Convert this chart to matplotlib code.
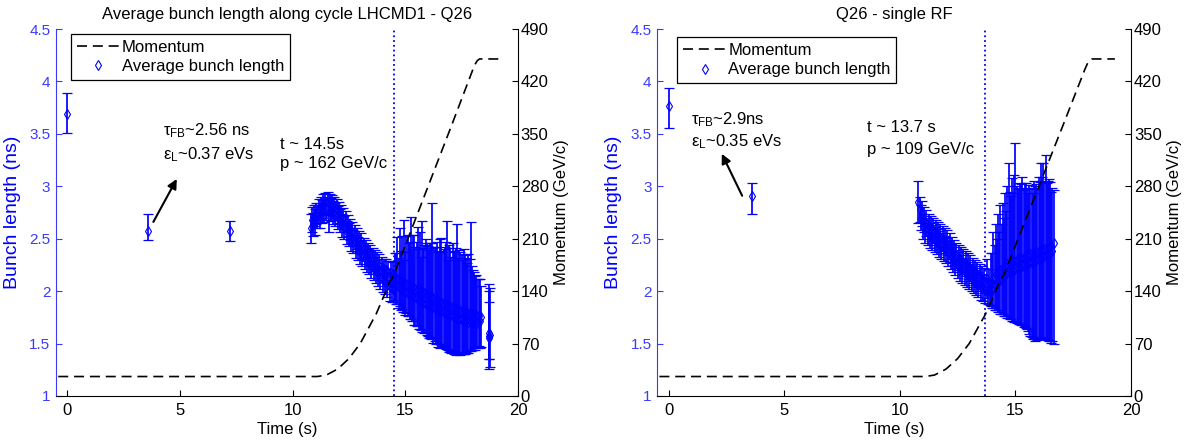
import matplotlib
matplotlib.use('Agg')
import matplotlib.pyplot as plt
from matplotlib.lines import Line2D

plt.rcParams['font.family'] = ['Liberation Sans', 'DejaVu Sans']
plt.rcParams['mathtext.fontset'] = 'custom'
plt.rcParams['mathtext.rm'] = 'Liberation Sans'
plt.rcParams['mathtext.it'] = 'Liberation Sans'

BLUE = '#0000ff'
TICK_BLUE = '#3a3aff'

# momentum program of the cycle (GeV/c), shared by both panels
mom_t = [-0.4, 11.1, 11.5, 12.0, 12.5, 13.0, 13.5, 13.7, 14.0, 14.3, 14.5,
         15.0, 16.0, 17.0, 18.0, 18.1, 18.2, 18.3, 19.3]
mom_p = [26, 26, 28, 36, 50, 70, 98, 109, 130, 152, 162,
         201, 279, 357, 436, 443, 448, 450, 450]

# ---- LHCMD1 - Q26 ----
q26_inj_t = [0.0, 3.6, 7.2]
q26_inj_len = [3.69, 2.57, 2.57]
q26_inj_lo = [0.18, 0.08, 0.09]
q26_inj_hi = [0.20, 0.17, 0.10]

q26_ramp_t = [10.80, 10.85, 10.90, 10.95, 11.00, 11.05, 11.10, 11.15, 11.20, 11.25,
              11.30, 11.35, 11.40, 11.45, 11.50, 11.55, 11.60, 11.65, 11.70, 11.75,
              11.80, 11.85, 11.90, 11.95, 12.00, 12.05, 12.10, 12.15, 12.20, 12.25,
              12.30, 12.35, 12.40, 12.45, 12.50, 12.55, 12.60, 12.65, 12.70, 12.75,
              12.80, 12.85, 12.90, 12.95, 13.00, 13.05, 13.10, 13.15, 13.20, 13.25,
              13.30, 13.35, 13.40, 13.45, 13.50, 13.55, 13.60, 13.65, 13.70, 13.75,
              13.80, 13.85, 13.90, 13.95, 14.00, 14.05, 14.10, 14.15, 14.20, 14.25,
              14.30, 14.35, 14.40, 14.45, 14.50]
q26_ramp_len = [2.60, 2.68, 2.64, 2.72, 2.66, 2.74, 2.71, 2.78, 2.72, 2.80,
                2.76, 2.83, 2.77, 2.84, 2.79, 2.85, 2.72, 2.83, 2.78, 2.82,
                2.75, 2.80, 2.73, 2.78, 2.70, 2.75, 2.67, 2.72, 2.63, 2.69,
                2.61, 2.66, 2.56, 2.63, 2.54, 2.59, 2.49, 2.56, 2.47, 2.53,
                2.43, 2.50, 2.41, 2.47, 2.37, 2.45, 2.35, 2.41, 2.32, 2.39,
                2.29, 2.36, 2.27, 2.34, 2.24, 2.31, 2.22, 2.29, 2.19, 2.27,
                2.16, 2.25, 2.13, 2.23, 2.11, 2.21, 2.09, 2.20, 2.06, 2.18,
                2.04, 2.17, 2.03, 2.16, 2.02]
q26_ramp_err = [0.14, 0.12, 0.11, 0.10, 0.12, 0.10, 0.11, 0.10, 0.12, 0.10,
                0.11, 0.10, 0.11, 0.10, 0.11, 0.10, 0.16, 0.10, 0.11, 0.10,
                0.11, 0.10, 0.11, 0.10, 0.11, 0.10, 0.11, 0.10, 0.11, 0.10,
                0.11, 0.10, 0.11, 0.10, 0.11, 0.10, 0.11, 0.10, 0.11, 0.10,
                0.11, 0.10, 0.11, 0.10, 0.11, 0.10, 0.11, 0.10, 0.11, 0.10,
                0.11, 0.10, 0.11, 0.10, 0.11, 0.10, 0.11, 0.10, 0.11, 0.10,
                0.11, 0.10, 0.11, 0.10, 0.12, 0.10, 0.12, 0.11, 0.12, 0.11,
                0.13, 0.12, 0.13, 0.12, 0.12]

q26_late_t = [14.55, 14.60, 14.65, 14.70, 14.75, 14.80, 14.85, 14.90, 14.95, 15.00,
              15.05, 15.10, 15.15, 15.20, 15.25, 15.30, 15.35, 15.40, 15.45, 15.50,
              15.55, 15.60, 15.65, 15.70, 15.75, 15.80, 15.85, 15.90, 15.95, 16.00,
              16.05, 16.10, 16.15, 16.20, 16.25, 16.30, 16.35, 16.40, 16.45, 16.50,
              16.55, 16.60, 16.65, 16.70, 16.75, 16.80, 16.85, 16.90, 16.95, 17.00,
              17.05, 17.10, 17.15, 17.20, 17.25, 17.30, 17.35, 17.40, 17.45, 17.50,
              17.55, 17.60, 17.65, 17.70, 17.75, 17.80, 17.85, 17.90, 17.95, 18.00,
              18.05, 18.10, 18.15, 18.20, 18.25, 18.30, 18.35,
              18.70, 18.70, 18.70, 18.75]
q26_late_len = [2.14, 2.06, 2.12, 2.04, 2.10, 2.02, 2.09, 2.00, 2.08, 1.99,
                2.07, 1.98, 2.06, 1.97, 2.05, 1.96, 2.04, 1.94, 2.02, 1.93,
                2.01, 1.92, 2.00, 1.91, 1.99, 1.89, 1.98, 1.88, 1.96, 1.87,
                1.95, 1.86, 1.94, 1.85, 1.93, 1.84, 1.92, 1.83, 1.91, 1.82,
                1.90, 1.81, 1.89, 1.80, 1.88, 1.79, 1.87, 1.78, 1.86, 1.77,
                1.85, 1.76, 1.84, 1.75, 1.83, 1.74, 1.82, 1.73, 1.81, 1.73,
                1.80, 1.72, 1.80, 1.72, 1.79, 1.71, 1.79, 1.71, 1.78, 1.70,
                1.78, 1.70, 1.77, 1.70, 1.76, 1.72, 1.75,
                1.55, 1.60, 1.57, 1.58]
q26_late_lo = [0.22, 0.18, 0.24, 0.20, 0.24, 0.20, 0.26, 0.20, 0.28, 0.22,
               0.28, 0.22, 0.30, 0.24, 0.32, 0.24, 0.32, 0.26, 0.34, 0.26,
               0.34, 0.28, 0.36, 0.28, 0.38, 0.28, 0.38, 0.28, 0.38, 0.30,
               0.40, 0.30, 0.40, 0.30, 0.42, 0.32, 0.42, 0.32, 0.44, 0.32,
               0.44, 0.32, 0.42, 0.32, 0.42, 0.34, 0.42, 0.34, 0.44, 0.34,
               0.44, 0.34, 0.44, 0.34, 0.44, 0.32, 0.42, 0.32, 0.42, 0.32,
               0.40, 0.32, 0.40, 0.30, 0.38, 0.30, 0.36, 0.28, 0.34, 0.26,
               0.32, 0.26, 0.30, 0.24, 0.28, 0.26, 0.28,
               0.29, 0.25, 0.22, 0.30]
q26_late_hi = [0.22, 0.30, 0.40, 0.28, 0.50, 0.36, 0.44, 0.30, 0.60, 0.38,
               0.46, 0.56, 0.40, 0.50, 0.66, 0.44, 0.50, 0.60, 0.40, 0.54,
               0.60, 0.48, 0.56, 0.42, 0.68, 0.52, 0.46, 0.62, 0.50, 0.56,
               0.44, 0.60, 0.52, 0.99, 0.48, 0.58, 0.50, 0.64, 0.46, 0.56,
               0.60, 0.70, 0.48, 0.60, 0.54, 0.68, 0.80, 0.52, 0.58, 0.64,
               0.48, 0.70, 0.54, 0.62, 0.58, 0.90, 0.50, 0.66, 0.56, 0.62,
               0.50, 0.68, 0.54, 0.60, 0.48, 0.64, 0.52, 0.95, 0.46, 0.50,
               0.40, 0.44, 0.38, 0.42, 0.36, 0.40, 0.30,
               0.52, 0.40, 0.33, 0.45]

# ---- Q26 single RF ----
srf_inj_t = [0.0, 3.6]
srf_inj_len = [3.77, 2.91]
srf_inj_lo = [0.21, 0.175]
srf_inj_hi = [0.17, 0.12]

srf_ramp_t = [10.80, 10.85, 10.90, 10.95, 11.00, 11.05, 11.10, 11.15, 11.20, 11.25,
              11.30, 11.35, 11.40, 11.45, 11.50, 11.55, 11.60, 11.65, 11.70, 11.75,
              11.80, 11.85, 11.90, 11.95, 12.00, 12.05, 12.10, 12.15, 12.20, 12.25,
              12.30, 12.35, 12.40, 12.45, 12.50, 12.55, 12.60, 12.65, 12.70, 12.75,
              12.80, 12.85, 12.90, 12.95, 13.00, 13.05, 13.10, 13.15, 13.20, 13.25,
              13.30, 13.35, 13.40, 13.45, 13.50, 13.55, 13.60, 13.65, 13.70, 13.75,
              13.80, 13.85, 13.90]
srf_ramp_len = [2.85, 2.78, 2.70, 2.74, 2.62, 2.68, 2.58, 2.65, 2.56, 2.62,
                2.53, 2.60, 2.51, 2.58, 2.49, 2.56, 2.47, 2.54, 2.45, 2.52,
                2.43, 2.50, 2.41, 2.48, 2.39, 2.46, 2.36, 2.43, 2.33, 2.40,
                2.30, 2.37, 2.27, 2.34, 2.25, 2.32, 2.22, 2.30, 2.20, 2.28,
                2.18, 2.26, 2.16, 2.24, 2.14, 2.22, 2.12, 2.20, 2.10, 2.18,
                2.08, 2.16, 2.06, 2.14, 2.04, 2.12, 2.03, 2.10, 2.01, 2.12,
                2.00, 2.09, 1.99]
srf_ramp_err = [0.20, 0.12, 0.12, 0.12, 0.12, 0.12, 0.12, 0.12, 0.12, 0.12,
                0.12, 0.12, 0.12, 0.12, 0.12, 0.12, 0.12, 0.12, 0.12, 0.12,
                0.12, 0.12, 0.12, 0.12, 0.12, 0.12, 0.12, 0.12, 0.12, 0.12,
                0.12, 0.12, 0.12, 0.12, 0.12, 0.12, 0.12, 0.12, 0.12, 0.12,
                0.12, 0.12, 0.12, 0.12, 0.12, 0.12, 0.12, 0.12, 0.12, 0.12,
                0.12, 0.12, 0.12, 0.12, 0.12, 0.12, 0.12, 0.12, 0.12, 0.19,
                0.12, 0.12, 0.12]

srf_late_t = [13.95, 14.00, 14.05, 14.10, 14.15, 14.20, 14.25, 14.30, 14.35, 14.40,
              14.45, 14.50, 14.55, 14.60, 14.65, 14.70, 14.75, 14.80, 14.85, 14.90,
              14.95, 15.00, 15.05, 15.10, 15.15, 15.20, 15.25, 15.30, 15.35, 15.40,
              15.45, 15.50, 15.55, 15.60, 15.65, 15.70, 15.75, 15.80, 15.85, 15.90,
              15.95, 16.00, 16.05, 16.10, 16.15, 16.20, 16.25, 16.30, 16.35, 16.40,
              16.45, 16.50, 16.55, 16.60, 16.65]
srf_late_len = [2.08, 2.02, 2.12, 2.06, 2.16, 2.08, 2.18, 2.10, 2.20, 2.12,
                2.22, 2.14, 2.24, 2.16, 2.26, 2.18, 2.27, 2.19, 2.28, 2.20,
                2.29, 2.21, 2.30, 2.22, 2.31, 2.23, 2.32, 2.24, 2.32, 2.25,
                2.33, 2.26, 2.34, 2.27, 2.35, 2.28, 2.36, 2.29, 2.36, 2.30,
                2.37, 2.31, 2.38, 2.32, 2.39, 2.33, 2.40, 2.34, 2.41, 2.35,
                2.42, 2.36, 2.43, 2.38, 2.46]
srf_late_lo = [0.22, 0.18, 0.28, 0.24, 0.34, 0.26, 0.38, 0.30, 0.42, 0.34,
               0.44, 0.38, 0.48, 0.40, 0.52, 0.44, 0.54, 0.46, 0.56, 0.48,
               0.58, 0.50, 0.60, 0.52, 0.62, 0.54, 0.64, 0.56, 0.66, 0.58,
               0.68, 0.62, 0.72, 0.68, 0.78, 0.72, 0.82, 0.74, 0.84, 0.76,
               0.84, 0.76, 0.84, 0.76, 0.84, 0.78, 0.86, 0.80, 0.88, 0.82,
               0.90, 0.84, 0.92, 0.86, 0.96]
srf_late_hi = [0.28, 0.34, 0.44, 0.38, 0.48, 0.42, 0.56, 0.46, 0.62, 0.52,
               0.62, 0.56, 0.70, 0.60, 0.74, 1.04, 0.68, 0.72, 0.80, 0.74,
               0.82, 1.20, 0.70, 0.76, 0.66, 0.80, 0.70, 0.85, 0.64, 0.78,
               0.70, 0.72, 0.60, 0.74, 0.62, 0.70, 0.58, 0.76, 0.64, 0.72,
               0.60, 0.78, 0.66, 0.90, 0.70, 0.89, 0.64, 0.96, 0.62, 0.70,
               0.65, 0.68, 0.52, 0.60, 0.50]


def draw_panel(rect, t, length, lo, hi, t_mark, title, legend_xy, notes, arrow):
    ax = fig.add_axes(rect)
    ax2 = ax.twinx()

    ax.axvline(t_mark, color=BLUE, ls=':', lw=1.3, zorder=1)
    # diamonds go under the bars so the dense stretches read as one blue mass
    ax.plot(t, length, 'd', ms=5, mfc='none', mec=BLUE, mew=0.8, zorder=2)
    ax.errorbar(t, length, yerr=[lo, hi], fmt='none', ecolor=BLUE,
                elinewidth=1.25, capsize=3.6, capthick=0.9, zorder=3)
    mom_line, = ax2.plot(mom_t, mom_p, color='black', ls='--',
                         dashes=(6, 3.5), lw=1.2)

    ax.set_xlim(-0.5, 20)
    ax.set_ylim(1, 4.5)
    ax2.set_ylim(0, 490)
    ax.set_xticks([0, 5, 10, 15, 20])
    ax.set_yticks([1, 1.5, 2, 2.5, 3, 3.5, 4, 4.5])
    ax.set_yticklabels(['1', '1.5', '2', '2.5', '3', '3.5', '4', '4.5'])
    ax2.set_yticks(range(0, 491, 70))

    for a in (ax, ax2):
        a.spines['top'].set_visible(False)
    ax.spines['right'].set_visible(False)
    ax2.spines['left'].set_visible(False)
    ax.spines['left'].set_color(TICK_BLUE)
    ax2.spines['bottom'].set_visible(False)

    ax.tick_params(axis='x', direction='in', length=4, labelsize=12, pad=5)
    ax.tick_params(axis='y', direction='in', length=4, labelsize=11,
                   colors=TICK_BLUE, pad=4)
    ax2.tick_params(axis='y', direction='in', length=4, labelsize=12, pad=2)

    ax.set_xlabel('Time (s)', fontsize=12, labelpad=3)
    ax.set_ylabel('Bunch length (ns)', fontsize=14, color=BLUE, labelpad=6)
    ax2.set_ylabel('Momentum (GeV/c)', fontsize=12, labelpad=4)
    ax.set_title(title, fontsize=12, pad=7)

    marker_proxy = Line2D([], [], ls='none', marker='d', ms=5, mfc='none',
                          mec=BLUE, mew=0.8)
    leg = ax2.legend([mom_line, marker_proxy],
                     ['Momentum', 'Average bunch length'],
                     loc='upper left', bbox_to_anchor=legend_xy,
                     borderaxespad=0, fontsize=12, fancybox=False,
                     edgecolor='black', framealpha=1, handlelength=2.6,
                     handletextpad=0.1, labelspacing=0.25, borderpad=0.35)
    leg.get_frame().set_linewidth(0.9)

    for x, y, s in notes:
        ax.text(x, y, s, fontsize=12, va='baseline')
    ax.annotate('', xy=arrow[1], xytext=arrow[0],
                arrowprops=dict(arrowstyle='-|>', color='black', lw=1.5,
                                mutation_scale=14, shrinkA=0, shrinkB=0))
    return ax, ax2


fig = plt.figure(figsize=(11.94, 4.47), dpi=100)

draw_panel([0.0469, 0.1141, 0.3869, 0.8210],
           q26_inj_t + q26_ramp_t + q26_late_t,
           q26_inj_len + q26_ramp_len + q26_late_len,
           q26_inj_lo + q26_ramp_err + q26_late_lo,
           q26_inj_hi + q26_ramp_err + q26_late_hi,
           14.5, 'Average bunch length along cycle LHCMD1 - Q26',
           (0.032, 0.987),
           [(4.25, 3.49, r'$\tau_{\mathrm{FB}}$~2.56 ns'),
            (4.25, 3.26, r'$\varepsilon_{\mathrm{L}}$~0.37 eVs'),
            (9.45, 3.36, 't ~ 14.5s'),
            (9.45, 3.17, 'p ~ 162 GeV/c')],
           ((3.82, 2.66), (4.86, 3.07)))

draw_panel([0.5503, 0.1141, 0.3970, 0.8210],
           srf_inj_t + srf_ramp_t + srf_late_t,
           srf_inj_len + srf_ramp_len + srf_late_len,
           srf_inj_lo + srf_ramp_err + srf_late_lo,
           srf_inj_hi + srf_ramp_err + srf_late_hi,
           13.7, 'Q26 - single RF',
           (0.043, 0.977),
           [(0.95, 3.59, r'$\tau_{\mathrm{FB}}$~2.9ns'),
            (0.95, 3.38, r'$\varepsilon_{\mathrm{L}}$~0.35 eVs'),
            (8.6, 3.52, 't ~ 13.7 s'),
            (8.6, 3.31, 'p ~ 109 GeV/c')],
           ((3.18, 2.91), (2.30, 3.31)))

fig.savefig('out.png', dpi=100)
